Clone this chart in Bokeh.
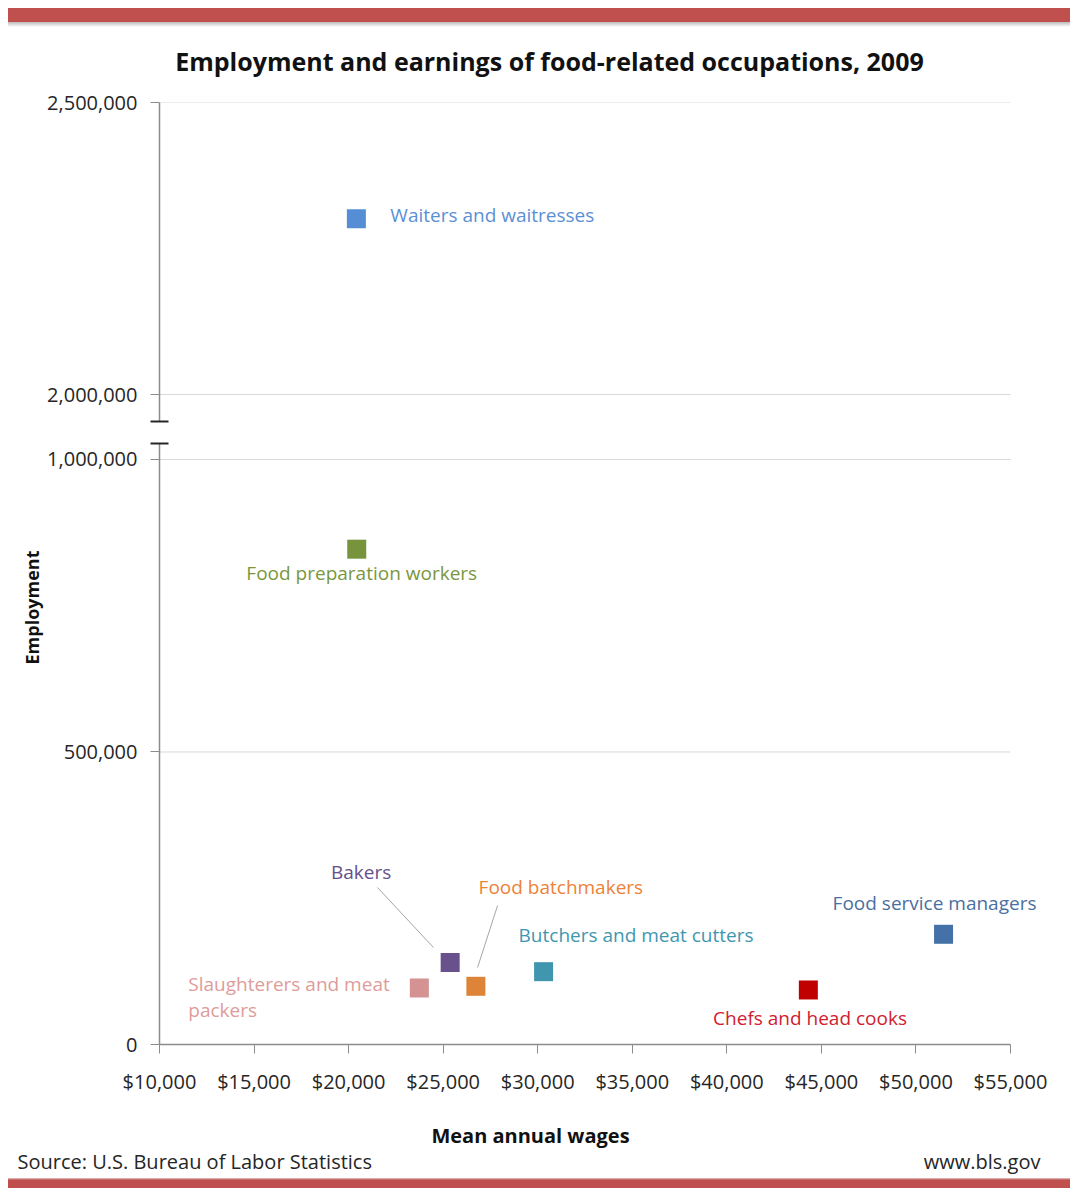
import math
from bokeh.plotting import figure
from bokeh.models import (ColumnDataSource, LabelSet, Label, FixedTicker, Range1d, Div,
                          NumeralTickFormatter)
from bokeh.layouts import column, row
from bokeh.embed import file_html
from bokeh.resources import INLINE
from bokeh.core.properties import value

# ---------------- data ----------------
occupations = ["Waiters and waitresses", "Food preparation workers", "Bakers",
               "Food batchmakers", "Slaughterers and meat packers",
               "Butchers and meat cutters", "Chefs and head cooks", "Food service managers"]
display_labels = ["Waiters and waitresses", "Food preparation workers", "Bakers",
                  "Food batchmakers", "Slaughterers and meat\npackers",
                  "Butchers and meat cutters", "Chefs and head cooks", "Food service managers"]
mean_wages = [20410, 20430, 25370, 26730, 23740, 30310, 44310, 51460]
employment = [2301000, 846700, 140200, 99500, 96600, 124500, 93200, 188400]

x_ticks = [10000, 15000, 20000, 25000, 30000, 35000, 40000, 45000, 50000, 55000]
y_ticks_low = [0, 500000, 1000000]
y_ticks_high = [2000000, 2500000]

title_text = "Employment and earnings of food-related occupations, 2009"
x_title = "Mean annual wages"
y_title = "Employment"
source_text = "Source: U.S. Bureau of Labor Statistics"
site_text = "www.bls.gov"

# ---------------- styles ----------------
FONT = "Open Sans"
marker_colors = ["#558ED5", "#77933C", "#68518C", "#DD8438", "#D49292", "#4096AE", "#C00000", "#4472A8"]
label_colors = ["#5B8FD6", "#7A9640", "#66508A", "#EE8238", "#DE9C9A", "#3F97AE", "#D0202E", "#4A6FA0"]
# label offsets from the point in pixels (right, up) and alignment
label_dx = [34, 5, -89, 85, -231, 92.5, 1.7, -9]
label_dy = [4, -24, 90, 99, -9.5, 36.7, -28, 31]
label_align = ["left", "center", "center", "center", "left", "center", "center", "center"]
# leader lines: (index, start px offset (right, down), end px offset)
leaders = [(2, (-16.7, -15), (-72.7, -75)), (3, (1.7, -18.8), (21.7, -80.8))]

PAGE_W = 1070
X_AXIS = (10000, 55000)
FRAME_W_AXIS = 851           # pixels covered by the x axis
EXTRA_PX = 40                # frame continues right of the axis end (room for labels)
XS_PER_PX = (X_AXIS[1] - X_AXIS[0]) / FRAME_W_AXIS
X_VIEW = (X_AXIS[0], X_AXIS[1] + EXTRA_PX * XS_PER_PX)
FRAME_W = FRAME_W_AXIS + EXTRA_PX
LOW_RANGE = (0, 1027350)
HIGH_RANGE = (1953800, 2500000)
LOW_FRAME_H = 601
HIGH_FRAME_H = 319
LEFT_W = 44
BORDER_L = 115
P_W = PAGE_W - LEFT_W
BORDER_R = P_W - BORDER_L - FRAME_W

AXIS_COLOR = "#8C8C8C"
GRID_COLOR = "#D9D9D9"
TEXT_COLOR = "#262626"
TICK_FONT = "20px"
LABEL_FONT = "19px"


def style_y_axis(p, ticks, break_tick):
    ax = p.yaxis[0]
    ax.ticker = FixedTicker(ticks=ticks, minor_ticks=[break_tick])
    ax.formatter = NumeralTickFormatter(format="0,0")
    ax.axis_line_color = AXIS_COLOR
    ax.axis_line_width = 1.5
    ax.major_tick_line_color = AXIS_COLOR
    ax.major_tick_in = 0
    ax.major_tick_out = 9
    ax.minor_tick_line_color = "#262626"
    ax.minor_tick_line_width = 2
    ax.minor_tick_in = 9
    ax.minor_tick_out = 9
    ax.major_label_standoff = 13
    ax.major_label_text_font = FONT
    ax.major_label_text_font_size = TICK_FONT
    ax.major_label_text_color = TEXT_COLOR
    p.grid.visible = False
    p.outline_line_color = None
    # horizontal gridlines limited to the x-axis extent
    p.segment(x0=X_AXIS[0], x1=X_AXIS[1], y0=ticks, y1=ticks, line_color=GRID_COLOR,
              line_width=1)


x_range = Range1d(*X_VIEW)
common = dict(width=P_W, x_range=x_range, output_backend="svg",
              toolbar_location=None, min_border_left=BORDER_L, min_border_right=BORDER_R,
              background_fill_color="white", border_fill_color="white")

# upper panel (2,000,000 - 2,500,000)
p1 = figure(height=17 + HIGH_FRAME_H + 11, y_range=Range1d(*HIGH_RANGE),
            x_axis_location=None, min_border_top=17, min_border_bottom=11, **common)
style_y_axis(p1, y_ticks_high, HIGH_RANGE[0])

# lower panel (0 - 1,000,000)
p2 = figure(height=11 + LOW_FRAME_H + 56, y_range=Range1d(*LOW_RANGE),
            min_border_top=11, min_border_bottom=56, **common)
style_y_axis(p2, y_ticks_low, LOW_RANGE[1])
xa = p2.xaxis[0]
xa.ticker = FixedTicker(ticks=x_ticks)
xa.bounds = X_AXIS
xa.formatter = NumeralTickFormatter(format="$0,0")
xa.axis_line_color = AXIS_COLOR
xa.axis_line_width = 1.5
xa.major_tick_line_color = AXIS_COLOR
xa.major_tick_in = 0
xa.major_tick_out = 9
xa.minor_tick_line_color = None
xa.major_label_standoff = 14
xa.major_label_text_font = FONT
xa.major_label_text_font_size = TICK_FONT
xa.major_label_text_color = TEXT_COLOR

src = ColumnDataSource(dict(x=mean_wages, y=employment, occ=occupations, lab=display_labels,
                            color=marker_colors, lcolor=label_colors,
                            dx=label_dx, dy=label_dy, align=label_align))
for p in (p1, p2):
    p.scatter("x", "y", source=src, marker="square", size=19, fill_color="color",
              line_color=None)


def subset(pred):
    idx = [i for i, v in enumerate(employment) if pred(v)]
    return ColumnDataSource({k: [src.data[k][i] for i in idx] for k in src.data})


hi_src = subset(lambda v: v >= HIGH_RANGE[0])
lo_src = subset(lambda v: v <= LOW_RANGE[1])
for p, s in ((p1, hi_src), (p2, lo_src)):
    p.add_layout(LabelSet(x="x", y="y", text="lab", source=s, x_offset="dx", y_offset="dy",
                          text_align="align", text_baseline="middle", text_color="lcolor",
                          text_font=value(FONT), text_font_size=LABEL_FONT,
                          text_line_height=1.0))

# leader lines (pixel offsets converted through the panel scale)
ys_per_px = (LOW_RANGE[1] - LOW_RANGE[0]) / LOW_FRAME_H
x0s, y0s, x1s, y1s = [], [], [], []
for i, (sx, sy), (ex, ey) in leaders:
    x0s.append(mean_wages[i] + sx * XS_PER_PX)
    y0s.append(employment[i] - sy * ys_per_px)
    x1s.append(mean_wages[i] + ex * XS_PER_PX)
    y1s.append(employment[i] - ey * ys_per_px)
p2.segment(x0s, y0s, x1s, y1s, line_color="#A6A6A6", line_width=1)


def text_strip(width, height, y_top, y_bottom):
    f = figure(width=width, height=height, x_range=Range1d(0, width),
               y_range=Range1d(y_bottom, y_top), x_axis_location=None, y_axis_location=None,
               output_backend="svg", toolbar_location=None, min_border=0,
               background_fill_color="white", border_fill_color="white")
    f.grid.visible = False
    f.outline_line_color = None
    return f


# header with the title (page coordinates)
header = text_strip(PAGE_W, 58, 27, 85)
header.add_layout(Label(x=549, y=60, text=title_text, text_align="center",
                        text_baseline="middle", text_font=FONT, text_font_size="25px",
                        text_font_style="bold", text_color="#111111"))

# left strip with the y-axis title
left = text_strip(LEFT_W, p1.height + p2.height, 85, 85 + p1.height + p2.height)
left.add_layout(Label(x=31, y=607, text=y_title, angle=math.pi / 2, text_align="center",
                      text_baseline="middle", text_font=FONT, text_font_size="18px",
                      text_font_style="bold", text_color="#111111"))

# footer with x-axis title and source line
foot_top = 85 + p1.height + p2.height
footer = text_strip(PAGE_W, 1178 - foot_top, foot_top, 1178)
footer.add_layout(Label(x=530, y=1135, text=x_title, text_align="center",
                        text_baseline="middle", text_font=FONT, text_font_size="20px",
                        text_font_style="bold", text_color="#111111"))
footer.add_layout(Label(x=17, y=1161, text=source_text, text_align="left",
                        text_baseline="middle", text_font=FONT, text_font_size="20px",
                        text_color=TEXT_COLOR))
footer.add_layout(Label(x=1040, y=1161, text=site_text, text_align="right",
                        text_baseline="middle", text_font=FONT, text_font_size="20px",
                        text_color=TEXT_COLOR))

top_bar = Div(text="", width=PAGE_W - 8, height=19, margin=(8, 0, 0, 8),
              styles={"background": "linear-gradient(#C0504D 0px, #C0504D 14px, #BBBBBB 14px, #FFFFFF 19px)"})
bottom_bar = Div(text="", width=PAGE_W - 8, height=10, margin=(0, 0, 0, 8),
                 styles={"background": "linear-gradient(#E8C8C8 0px, #C0504D 2px, #C0504D 10px)"})

layout = column(top_bar, header, row(left, column(p1, p2, spacing=0), spacing=0), footer,
                bottom_bar, spacing=0)
open("out.html", "w").write(file_html(layout, INLINE))
